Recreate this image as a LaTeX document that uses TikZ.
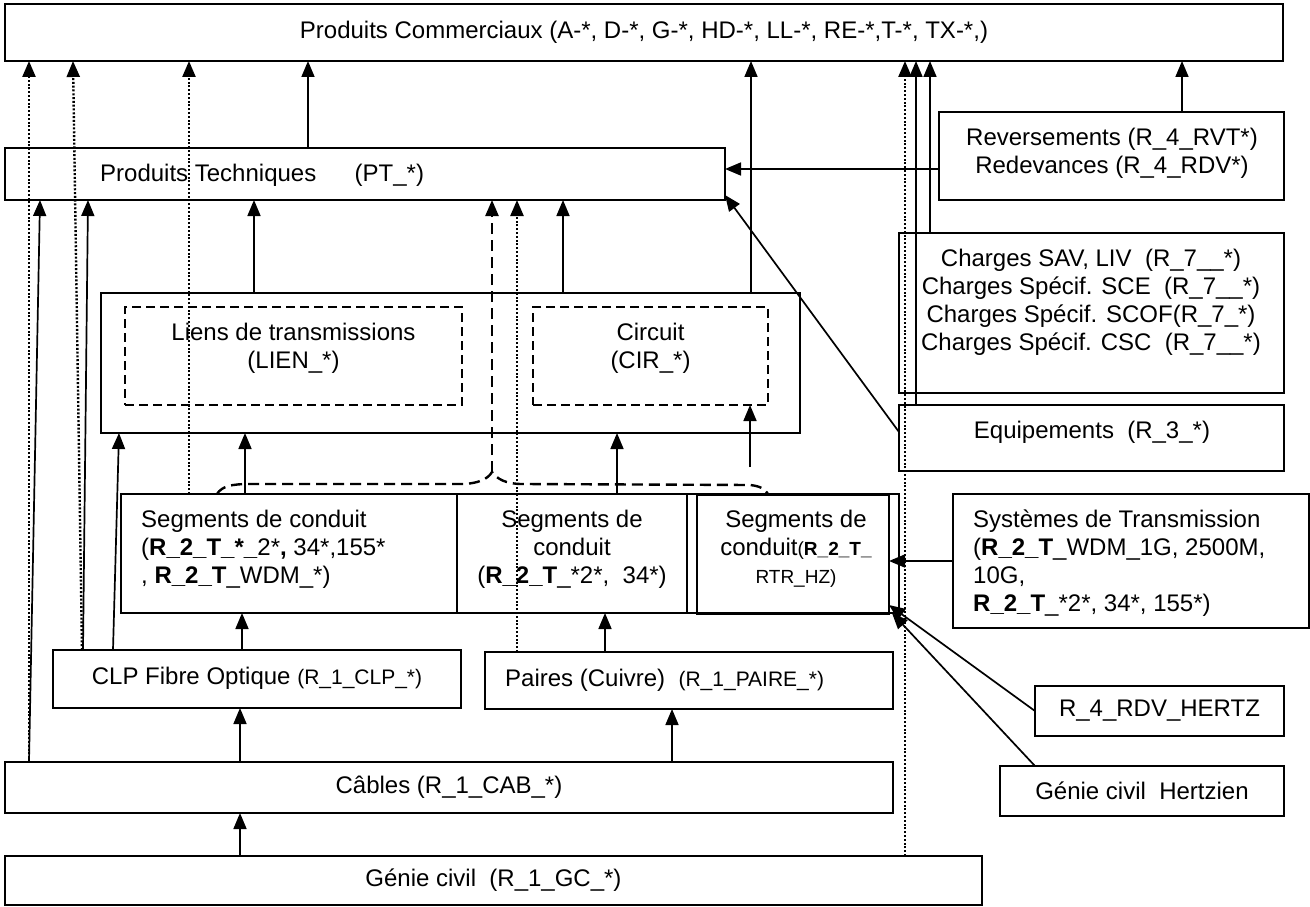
\documentclass[tikz,border=0pt]{standalone}
\usepackage{fontspec}
\setmainfont{Liberation Sans}
\usetikzlibrary{arrows.meta}
\newcommand{\petit}{\fontsize{21}{25}\selectfont}
\newcommand{\mini}{\fontsize{19}{23}\selectfont}
\tikzstyle{box}=[
    draw,              % black border
    rectangle,         % plain rectangle
    line width=2pt,
    inner sep=0pt,
    outer sep=0pt,
    align=center]
\tikzstyle{dashbox}=[
    box,
    line width=1.8pt,
    dash pattern=on 9pt off 5pt]   % dashed inner frame
\tikzstyle{txt}=[inner sep=0pt, align=center]
\tikzstyle{arr}=[->, line width=1.7pt]
\tikzstyle{dots}=[->, line width=2.4pt, dash pattern=on 2pt off 1.8pt]
\tikzstyle{brace}=[line width=2.4pt, dash pattern=on 11pt off 6pt]
\begin{document}
\begin{tikzpicture}[x=1pt, y=-1pt, >={Triangle[length=16pt,width=13pt]},
    font=\fontsize{24}{28}\selectfont]
        \useasboundingbox (0,0) rectangle (1310,907);

        % Draw the boxes.
        \node[box, minimum width=1278pt, minimum height=57pt] (com) at (644,32.5) {Produits Commerciaux (A-*, D-*, G-*, HD-*, LL-*, RE-*,T-*, TX-*,)};
        \node[box, minimum width=720pt, minimum height=52pt] (pt) at (365,174) {};
        \node[box, minimum width=345pt, minimum height=88pt] (rev) at (1111.5,156) {};
        \node[box, minimum width=385pt, minimum height=160pt] (charges) at (1091.5,313) {};
        \node[box, minimum width=385pt, minimum height=66pt] (equip) at (1091.5,438) {};
        \node[box, minimum width=699pt, minimum height=140pt] (big) at (450.5,363) {};
        \node[dashbox, minimum width=337pt, minimum height=98pt] (liens) at (293.5,356) {};
        \node[dashbox, minimum width=235pt, minimum height=98pt] (circ) at (650.5,356) {};
        \node[box, minimum width=336pt, minimum height=119pt] (seg1) at (289,553.5) {};
        \node[box, line width=2.8pt, minimum width=230pt, minimum height=119pt] (seg2) at (572,553.5) {};
        \node[box, line width=1.4pt, minimum width=212pt, minimum height=119pt] (seg3out) at (793,553.5) {};
        \node[box, line width=2.4pt, minimum width=192pt, minimum height=119pt] (seg3) at (793,554.5) {};
        \node[box, minimum width=356pt, minimum height=134pt] (sys) at (1131,561) {};
        \node[box, minimum width=408pt, minimum height=58pt] (clp) at (257,679) {};
        \node[box, minimum width=408pt, minimum height=57pt] (paires) at (689,680.5) {};
        \node[box, minimum width=888pt, minimum height=51pt] (cab) at (449,787.5) {Câbles (R\_1\_CAB\_*)};
        \node[box, minimum width=977pt, minimum height=49pt] (gc) at (493.5,880.5) {Génie civil\ \ (R\_1\_GC\_*)};
        \node[box, minimum width=249pt, minimum height=50pt] (rdvh) at (1159.5,711) {R\_4\_RDV\_HERTZ};
        \node[box, minimum width=284pt, minimum height=50pt] (gch) at (1142,791) {Génie civil\ \ Hertzien};

        % Texts inside the boxes
        \node[txt, anchor=west] (pt-txt) at (100,175) {Produits Techniques\hspace{1.6em}(PT\_*)};
        \node[txt] (rev-txt) at (1112,153) {Reversements (R\_4\_RVT*)\\Redevances (R\_4\_RDV*)};
        \node[txt] (charges-txt) at (1091,302) {Charges SAV, LIV\ \ (R\_7\_\_*)\\Charges Spécif. SCE\ \ (R\_7\_\_*)\\Charges Spécif. SCOF(R\_7\_*)\\Charges Spécif. CSC\ \ (R\_7\_\_*)};
        \node[txt] (equip-txt) at (1092,432) {Equipements\ \ (R\_3\_*)};
        \node[txt] (liens-txt) at (293.5,348) {Liens de transmissions\\(LIEN\_*)};
        \node[txt] (circ-txt) at (650.5,348) {Circuit\\(CIR\_*)};
        \node[txt, anchor=west, align=left] (seg1-txt) at (141,549) {Segments de conduit\\(\textbf{R\_2\_T\_*\_}2*\textbf{,} 34*,155*\\, \textbf{R\_2\_T}\_WDM\_*)};
        \node[txt] (seg2-txt) at (572,549) {Segments de\\conduit\\(\textbf{R\_2\_T}\_*2*,\ \ 34*)};
        \node[txt] (seg3-txt) at (796,549) {Segments de\\conduit{\mini(\textbf{R\_2\_T\_}}\\{\mini RTR\_HZ)}};
        \node[txt, anchor=west, align=left] (sys-txt) at (973,563) {Systèmes de Transmission\\(\textbf{R\_2\_T}\_WDM\_1G, 2500M,\\10G,\\\textbf{R\_2\_T}\_*2*, 34*, 155*)};
        \node[txt] (clp-txt) at (257,678) {CLP Fibre Optique {\petit(R\_1\_CLP\_*)}};
        \node[txt, anchor=west] (paires-txt) at (505,680) {Paires (Cuivre)\ \ {\petit(R\_1\_PAIRE\_*)}};

        % Connect boxes with arrows
        \draw[arr] (pt.north -| 308,0) -- (com.south -| 308,0);
        \draw[arr] (big.north -| 751,0) -- (com.south -| 751,0);
        \draw[arr] (rev.north -| 1182,0) -- (com.south -| 1182,0);
        \draw[arr] (charges.north -| 930,0) -- (com.south -| 930,0);
        \draw[arr] (equip.north -| 916,0) -- (com.south -| 916,0);
        \draw[dots] (gc.north -| 905,0) -- (com.south -| 905,0);
        \draw[dots] (cab.north -| 29,0) -- (com.south -| 29,0);
        \draw[dots] (clp.north -| 82,0) -- (com.south -| 73,0);
        \draw[dots] (seg1.north -| 189,0) -- (com.south -| 189,0);

        \draw[arr] (rev.west |- 0,169) -- (pt.east |- 0,169);
        \draw[arr] ([yshift=6pt]equip.west) -- ([yshift=5pt]pt.south east);
        \draw[arr] (cab.north -| 29,0) -- (pt.south -| 40,0);
        \draw[arr] (clp.north -| 83,0) -- (pt.south -| 88,0);
        \draw[arr] (big.north -| 254,0) -- (pt.south -| 254,0);
        \draw[arr] (big.north -| 563,0) -- (pt.south -| 563,0);
        \draw[dots] (paires.north -| 517,0) -- (pt.south -| 517,0);

        % dashed brace over the conduit segments
        \coordinate (tip) at (492,472);
        \draw[brace] (seg1.north -| 217,0) .. controls (222,486) and (232,484) .. (250,484)
            -- (460,484) .. controls (478,484) and (488,479) .. (tip)
            .. controls (497,479) and (506,484) .. (522,484)
            -- (750,485) .. controls (760,486) and (765,489) .. (seg3out.north -| 768,0);
        \draw[brace, ->] (tip) -- (pt.south -| tip);

        \draw[arr] (clp.north -| 113,0) -- (big.south -| 119,0);
        \draw[arr] (seg1.north -| 245,0) -- (big.south -| 245,0);
        \draw[arr] (seg2.north -| 617,0) -- (big.south -| 617,0);
        \coordinate (free) at (750,467);
        \draw[arr] (free) -- (circ.south -| free);

        \draw[arr] (clp.north -| 242,0) -- (seg1.south -| 242,0);
        \draw[arr] (paires.north -| 605,0) -- (seg2.south -| 605,0);
        \draw[arr] (sys.west) -- (seg3.east |- sys.west);
        \draw[arr] (rdvh.west) -- ([yshift=9pt]seg3.south east);
        \draw[arr] ([xshift=35pt]gch.north west) -- ([xshift=3pt,yshift=1pt]seg3.south east);

        \draw[arr] (cab.north -| 240,0) -- (clp.south -| 240,0);
        \draw[arr] (cab.north -| 672,0) -- (paires.south -| 672,0);
        \draw[arr] (gc.north -| 240,0) -- (cab.south -| 240,0);
\end{tikzpicture}
\end{document}
